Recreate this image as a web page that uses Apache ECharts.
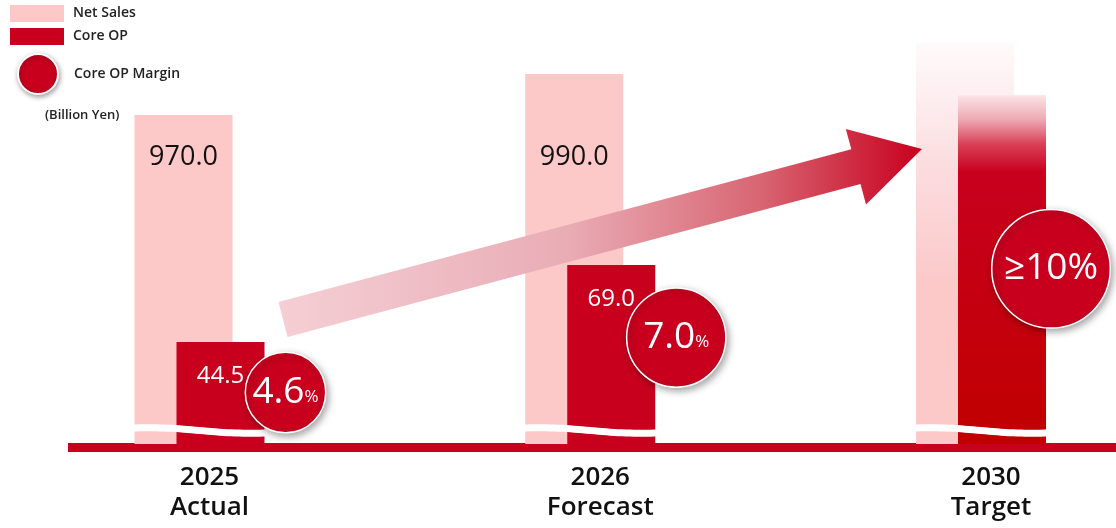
<!DOCTYPE html>
<html>
<head>
<meta charset="utf-8">
<script src="https://cdn.jsdelivr.net/npm/echarts@6/dist/echarts.min.js"></script>
<style>
  html, body { margin: 0; padding: 0; background: #ffffff; }
  #chart { width: 1116px; height: 528px; }
</style>
</head>
<body>
<div id="chart"></div>
<script>
// Fiscal years and plan phases
const years = ['2025', '2026', '2030'];
const phases = ['Actual', 'Forecast', 'Target'];
// Billion yen
const netSales = [970.0, 990.0, 1005];
const coreOP = [44.5, 69.0, 123];
// Percent
const coreOPMargin = [4.6, 7.0, 10];

const RED = '#c8001e';
const DEEP_RED = '#c00000';
const PINK = '#fcc8c8';
const FONT = '"Open Sans", "Noto Sans", sans-serif';

const categories = years.map((y, i) => y + '\n' + phases[i]);
const isTarget = i => phases[i] === 'Target';

// Broken value axes: each bar family gets its own scale above a cut
const NS_MIN = 809.5, NS_MAX = 1011.5;
const OP_MIN = 12.05, OP_MAX = 143.8;
const MG_MIN = 2.35, MG_MAX = 20.43;

const vGrad = stops => ({
  type: 'linear', x: 0, y: 0, x2: 0, y2: 1,
  colorStops: stops.map(([offset, color]) => ({ offset, color }))
});

// Target-year bars fade out toward the top
const nsTargetFill = vGrad([[0, 'rgba(250,214,218,0.12)'], [0.3, 'rgba(250,206,210,0.7)'], [0.6, PINK], [1, PINK]]);
const opTargetFill = vGrad([[0, '#fae4e7'], [0.07, '#eda9b3'], [0.14, '#d94057'], [0.22, RED], [1, DEEP_RED]]);

const nsData = netSales.map((v, i) => isTarget(i)
  ? { value: v, itemStyle: { color: nsTargetFill }, label: { show: false } }
  : v);
const opData = coreOP.map((v, i) => isTarget(i)
  ? { value: v, itemStyle: { color: opTargetFill }, label: { show: false } }
  : v);
// The target badge sits further over its bar
const marginData = coreOPMargin.map((v, i) => ({
  value: v,
  symbolOffset: [isTarget(i) ? 70 : 86, 0]
}));

// White wavy cut across each bar pair, marking the axis break
function renderBreak(params, api) {
  const cs = params.coordSys;
  const bottom = cs.y + cs.height;
  const cx = api.coord([api.value(0), NS_MIN])[0];
  const x0 = cx - 80, w = 160;
  const top = [], bot = [];
  for (let k = 0; k <= 40; k++) {
    const t = k / 40;
    const yc = bottom - 15.5 + 4 * t - 1.6 * Math.sin(2 * Math.PI * t);
    top.push([x0 + t * w, yc - 3.5]);
    bot.unshift([x0 + t * w, yc + 3.5]);
  }
  return {
    type: 'polygon',
    shape: { points: top.concat(bot) },
    style: { fill: '#ffffff' }
  };
}

const marginLabel = p => {
  const i = p.dataIndex;
  if (isTarget(i)) return '{big|≥' + p.value + '%}';
  return '{big|' + p.value.toFixed(1) + '}{pct|%}';
};

// Upward trend arrow
const arrowPoints = [
  [278.4, 302.1], [851.3, 149.3], [845.8, 129.0], [922, 149],
  [866.0, 204.4], [860.5, 184.1], [287.6, 336.9]
];

const chart = echarts.init(document.getElementById('chart'), null, { renderer: 'canvas' });

chart.setOption({
  animation: false,
  backgroundColor: '#ffffff',
  title: {
    text: '(Billion Yen)',
    left: 40, top: 104,
    textStyle: { fontSize: 13, fontWeight: 600, color: '#222', fontFamily: FONT }
  },
  legend: [
    {
      data: ['Net Sales', 'Core OP'],
      orient: 'vertical', left: 5, top: 0,
      icon: 'rect', itemWidth: 54, itemHeight: 17, itemGap: 6,
      selectedMode: false,
      textStyle: { fontSize: 14, fontWeight: 600, color: '#222', fontFamily: FONT, padding: [0, 0, 0, 4] }
    },
    {
      data: ['Core OP Margin'],
      orient: 'vertical', left: 12, top: 48,
      icon: 'circle', itemWidth: 40, itemHeight: 40,
      selectedMode: false,
      itemStyle: { opacity: 1, shadowBlur: 5, shadowColor: 'rgba(0,0,0,0.35)', shadowOffsetX: 1, shadowOffsetY: 2 },
      textStyle: { fontSize: 14, fontWeight: 600, color: '#222', fontFamily: FONT, padding: [0, 0, 0, 11] }
    }
  ],
  grid: [
    // bar area: year ticks sit on the grid edges
    { left: 199.5, right: 135, top: 30, bottom: 84 },
    // baseline strip
    { left: 68, right: 0, top: 30, bottom: 80.5 }
  ],
  xAxis: [
    {
      type: 'category', gridIndex: 0, data: categories, boundaryGap: false,
      axisLine: { show: false }, axisTick: { show: false },
      axisLabel: {
        interval: 0, margin: 19, fontSize: 26, fontWeight: 600, lineHeight: 30,
        color: '#111', fontFamily: FONT, padding: [0, 0, 0, 20]
      }
    },
    {
      type: 'value', gridIndex: 1, min: 0, max: 1,
      axisLine: { show: true, onZero: false, lineStyle: { color: RED, width: 9, cap: 'butt' } },
      axisTick: { show: false }, axisLabel: { show: false }, splitLine: { show: false }
    }
  ],
  yAxis: [
    { type: 'value', gridIndex: 0, min: NS_MIN, max: NS_MAX, startValue: NS_MIN, show: false, splitLine: { show: false } },
    { type: 'value', gridIndex: 0, min: OP_MIN, max: OP_MAX, startValue: OP_MIN, show: false, splitLine: { show: false } },
    { type: 'value', gridIndex: 0, min: MG_MIN, max: MG_MAX, show: false, splitLine: { show: false } },
    { type: 'value', gridIndex: 1, min: 0, max: 1, show: false, splitLine: { show: false } }
  ],
  series: [
    {
      name: 'Net Sales', type: 'bar', xAxisIndex: 0, yAxisIndex: 0,
      data: nsData, barWidth: 98, barGap: '-57.14%', clip: false, z: 2,
      itemStyle: { color: PINK },
      label: {
        show: true, position: 'insideBottom', distance: 273,
        color: '#111', fontSize: 27, fontFamily: FONT,
        formatter: p => p.value.toFixed(1)
      }
    },
    {
      name: 'Core OP', type: 'bar', xAxisIndex: 0, yAxisIndex: 1,
      data: opData, barWidth: 88, barGap: '-57.14%', clip: false, z: 2,
      itemStyle: { color: RED },
      label: {
        show: true, position: 'insideTop', distance: 22,
        color: '#fff', fontSize: 24, fontFamily: FONT,
        formatter: p => p.value.toFixed(1)
      }
    },
    {
      name: 'break', type: 'custom', xAxisIndex: 0, yAxisIndex: 0,
      data: years.map((y, i) => [i, NS_MIN]),
      encode: { x: 0, y: 1 },
      renderItem: renderBreak, z: 3, silent: true
    },
    {
      name: 'Core OP Margin', type: 'scatter', xAxisIndex: 0, yAxisIndex: 2,
      data: marginData, clip: false, z: 5,
      symbol: 'circle',
      symbolSize: v => 37.5 * Math.sqrt(v),
      itemStyle: {
        color: RED, opacity: 1, borderColor: '#ffffff', borderWidth: 1.5,
        shadowBlur: 7, shadowColor: 'rgba(0,0,0,0.35)', shadowOffsetX: 2, shadowOffsetY: 3
      },
      label: {
        show: true, position: 'inside', formatter: marginLabel,
        rich: {
          big: { fontSize: 37, color: '#fff', fontFamily: FONT, verticalAlign: 'bottom' },
          pct: { fontSize: 17, color: '#fff', fontFamily: FONT, verticalAlign: 'bottom', padding: [0, 0, 5, 0] }
        }
      }
    }
  ],
  graphic: [
    {
      type: 'polygon', z: 10, silent: true,
      shape: { points: arrowPoints },
      style: {
        fill: {
          type: 'linear', x: 0, y: 0, x2: 1, y2: 0,
          colorStops: [
            { offset: 0, color: '#f5cfd5' },
            { offset: 0.45, color: '#e9acb5' },
            { offset: 0.75, color: '#d86572' },
            { offset: 1, color: RED }
          ]
        }
      }
    }
  ]
});
</script>
</body>
</html>
